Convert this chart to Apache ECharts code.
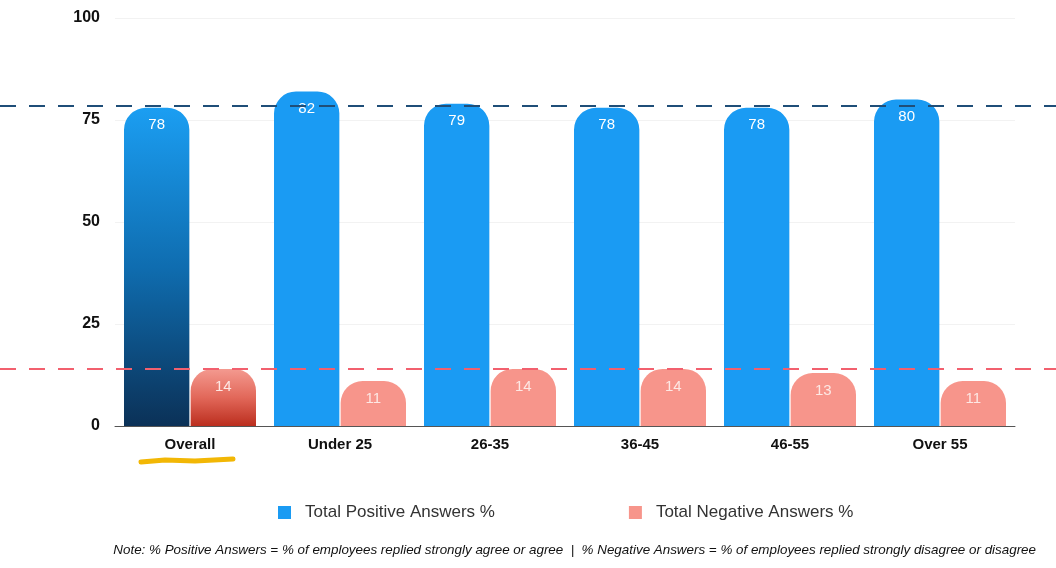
<!DOCTYPE html>
<html><head><meta charset="utf-8">
<script src="https://cdn.jsdelivr.net/npm/echarts@6/dist/echarts.min.js"></script>
<style>html,body{margin:0;padding:0;background:#fff}#c{width:1056px;height:568px}</style>
</head><body><div id="c"></div>
<script>
const categories = ['Overall','Under 25','26-35','36-45','46-55','Over 55'];
const positive = [78, 82, 79, 78, 78, 80];
const negative = [14, 11, 14, 14, 13, 11];
const positiveRef = 78.6;
const negativeRef = 14;
const yTicks = [0, 25, 50, 75, 100];
const seriesNames = ['Total Positive Answers %', 'Total Negative Answers %'];
const note = 'Note: % Positive Answers = % of employees replied strongly agree or agree  |  % Negative Answers = % of employees replied strongly disagree or disagree';

const BLUE = '#1a9bf3', RED = '#f7958b';
const grad = (a, m, b) => new echarts.graphic.LinearGradient(0, 0, 0, 1, [{offset:0,color:a},{offset:0.5,color:m},{offset:1,color:b}]);

const chart = echarts.init(document.getElementById('c'));
chart.setOption({
  animation: false,
  textStyle: {fontFamily: 'Liberation Sans, Arial, sans-serif'},
  grid: [
    {left: 115, right: 41, top: 18, bottom: 142},
    {left: 0, right: 0, top: 18, bottom: 142}
  ],
  legend: {
    top: 499, left: 273, itemGap: 134, itemWidth: 13, itemHeight: 13, icon: 'rect',
    textStyle: {fontSize: 17, color: '#333', padding: [0, 0, 0, 9]},
    data: seriesNames
  },
  xAxis: [
    {type: 'category', data: categories, gridIndex: 0,
     axisLine: {lineStyle: {color: '#555', width: 1}}, axisTick: {show: false},
     axisLabel: {fontWeight: 'bold', fontSize: 15, color: '#111', margin: 11}},
    {type: 'value', gridIndex: 1, show: false, min: 0, max: 1}
  ],
  yAxis: [
    {type: 'value', gridIndex: 0, min: 0, max: 100, interval: 25,
     axisLabel: {fontWeight: 'bold', fontSize: 16, color: '#111', margin: 15,
       customValues: yTicks},
     axisLine: {show: false}, axisTick: {show: false},
     splitLine: {lineStyle: {color: '#f2f2f2'}}},
    {type: 'value', gridIndex: 1, min: 0, max: 100, show: false}
  ],
  series: [
    {name: seriesNames[0], type: 'bar', xAxisIndex: 0, yAxisIndex: 0,
     barGap: '2%', barCategoryGap: '12%',
     data: positive.map((v, i) => i === 0 ? {value: v, itemStyle: {color: grad('#1b9ef2', '#0f6db0', '#0b3157')}} : v),
     itemStyle: {color: BLUE, borderRadius: [22, 22, 0, 0]},
     label: {show: true, position: 'insideTop', distance: 10, color: '#fff', fontSize: 15}},
    {name: seriesNames[1], type: 'bar', xAxisIndex: 0, yAxisIndex: 0,
     data: negative.map((v, i) => i === 0 ? {value: v, itemStyle: {color: grad('#f49a90', '#e2685a', '#bb2e1e')}} : v),
     itemStyle: {color: RED, borderRadius: [22, 22, 0, 0]},
     label: {show: true, position: 'insideTop', distance: 10, color: '#fde8e4', fontSize: 15}},
    {type: 'line', xAxisIndex: 1, yAxisIndex: 1, data: [], silent: true,
     markLine: {symbol: 'none', silent: true, label: {show: false},
       data: [
         {yAxis: positiveRef, lineStyle: {color: '#1f4e78', type: [16, 13], width: 2}},
         {yAxis: negativeRef, lineStyle: {color: '#f2606e', type: [16, 13], width: 2}}
       ]}}
  ],
  graphic: [
    {type: 'polyline', shape: {points: [[141, 462], [165, 460], [195, 461], [233, 459]]},
     style: {stroke: '#f2b705', lineWidth: 5, lineCap: 'round'}},
    {type: 'text', right: 20, top: 544,
     style: {text: note, font: 'italic 13.4px Liberation Sans, Arial, sans-serif', fill: '#111'}}
  ]
});
</script></body></html>
